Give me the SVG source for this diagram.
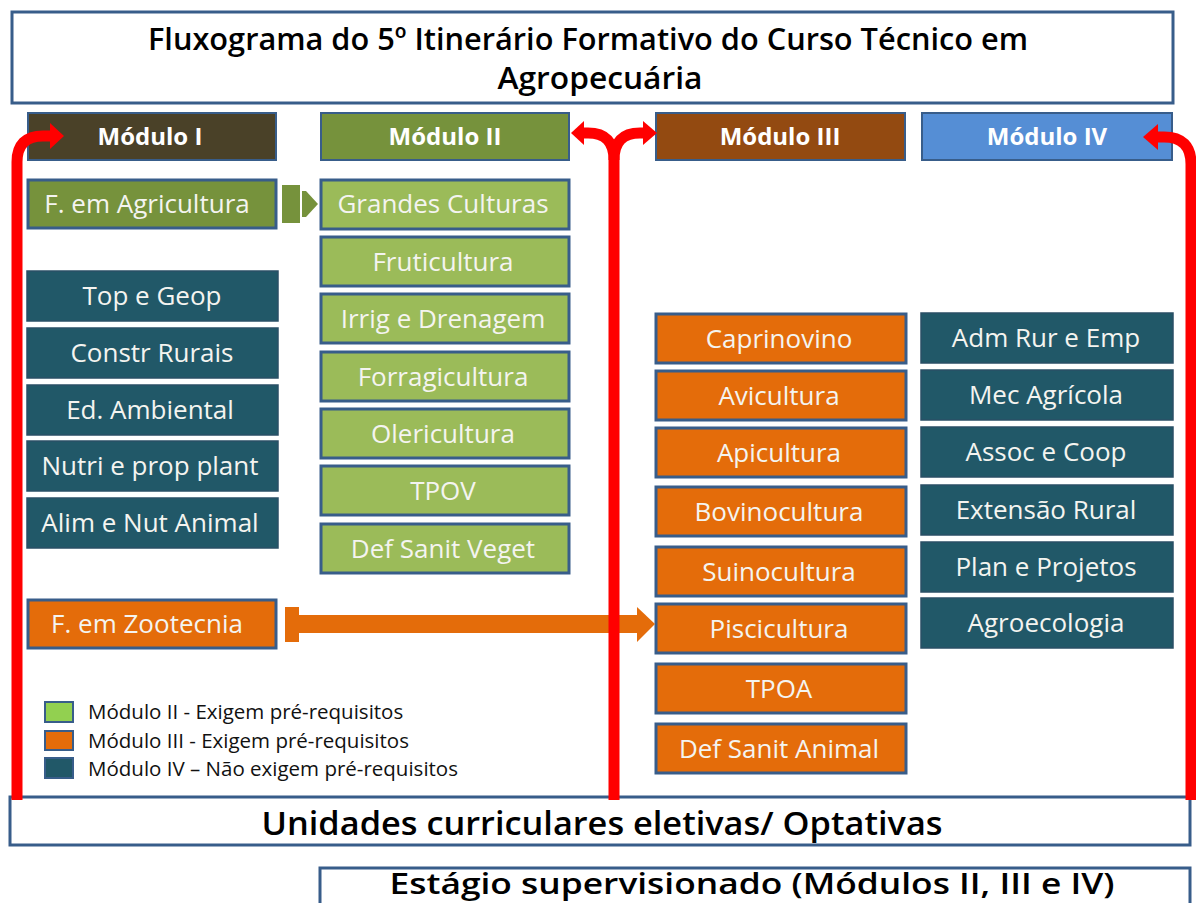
<svg xmlns="http://www.w3.org/2000/svg" width="1196" height="903" viewBox="0 0 1196 903">
<defs>
<style>
.frame{fill:#ffffff;stroke:#385d8a;stroke-width:3}
.hdr{stroke:#385d8a;stroke-width:2}
.n{stroke:#385d8a;stroke-width:3}
.t4{fill:#215868;stroke:#2a4f66;stroke-width:1.5}
.lg{fill:#9bbb59}
.dg{fill:#76923c}
.or{fill:#e46c0a}
.ht{font-family:"Open Sans","Liberation Sans",sans-serif;font-weight:bold;font-size:24px;fill:#ffffff;text-anchor:middle}
.nt{font-family:"Open Sans","Liberation Sans",sans-serif;font-size:26px;fill:#f4f4f0;text-anchor:middle}
.big{font-family:"Open Sans","Liberation Sans",sans-serif;font-weight:600;fill:#000000;text-anchor:middle}
.leg{font-family:"Open Sans","Liberation Sans",sans-serif;font-size:20.5px;fill:#111111}
.red{fill:none;stroke:#ff0000;stroke-width:11}
.redh{fill:#ff0000}
</style>
</defs>

<g id="title">
<rect class="frame" x="12" y="12" width="1161" height="91"/>
<text class="big" x="588" y="50" font-size="31" textLength="880" lengthAdjust="spacingAndGlyphs">Fluxograma do 5º Itinerário Formativo do Curso Técnico em</text>
<text class="big" x="600" y="89" font-size="31" textLength="205" lengthAdjust="spacingAndGlyphs">Agropecuária</text>
</g>

<g id="modulo-i"><rect class="hdr" x="28" y="113" width="248" height="47" fill="#4a4128"/><text class="ht" x="150" y="145">Módulo I</text></g>
<g id="modulo-ii"><rect class="hdr" x="321" y="113" width="248" height="47" fill="#76923c"/><text class="ht" x="445" y="145">Módulo II</text></g>
<g id="modulo-iii"><rect class="hdr" x="656" y="113" width="249" height="47" fill="#934a11"/><text class="ht" x="780" y="145">Módulo III</text></g>
<g id="modulo-iv"><rect class="hdr" x="922" y="113" width="250" height="47" fill="#558ed5"/><text class="ht" x="1047" y="145">Módulo IV</text></g>

<g id="f-agricultura"><rect class="n dg" x="28" y="180" width="248" height="48"/><text class="nt" x="147" y="213">F. em Agricultura</text></g>
<g id="top-geop"><rect class="t4" x="27" y="271" width="251" height="50"/><text class="nt" x="152" y="305">Top e Geop</text></g>
<g id="constr-rurais"><rect class="t4" x="27" y="328" width="251" height="50"/><text class="nt" x="152" y="362">Constr Rurais</text></g>
<g id="ed-ambiental"><rect class="t4" x="27" y="385" width="251" height="50"/><text class="nt" x="150" y="419">Ed. Ambiental</text></g>
<g id="nutri-prop-plant"><rect class="t4" x="27" y="441" width="251" height="50"/><text class="nt" x="150" y="475">Nutri e prop plant</text></g>
<g id="alim-nut-animal"><rect class="t4" x="27" y="498" width="251" height="50"/><text class="nt" x="150" y="532">Alim e Nut Animal</text></g>
<g id="f-zootecnia"><rect class="n or" x="28" y="600" width="248" height="48"/><text class="nt" x="147" y="633">F. em Zootecnia</text></g>

<g id="grandes-culturas"><rect class="n lg" x="321" y="180" width="248" height="49"/><text class="nt" x="443" y="213">Grandes Culturas</text></g>
<g id="fruticultura"><rect class="n lg" x="321" y="237" width="248" height="49"/><text class="nt" x="443" y="271">Fruticultura</text></g>
<g id="irrig-drenagem"><rect class="n lg" x="321" y="294" width="248" height="49"/><text class="nt" x="443" y="328">Irrig e Drenagem</text></g>
<g id="forragicultura"><rect class="n lg" x="321" y="352" width="248" height="49"/><text class="nt" x="443" y="386">Forragicultura</text></g>
<g id="olericultura"><rect class="n lg" x="321" y="409" width="248" height="49"/><text class="nt" x="443" y="443">Olericultura</text></g>
<g id="tpov"><rect class="n lg" x="321" y="466" width="248" height="49"/><text class="nt" x="443" y="500">TPOV</text></g>
<g id="def-sanit-veget"><rect class="n lg" x="321" y="524" width="248" height="49"/><text class="nt" x="443" y="558">Def Sanit Veget</text></g>

<g id="caprinovino"><rect class="n or" x="656" y="314" width="250" height="49"/><text class="nt" x="779" y="348">Caprinovino</text></g>
<g id="avicultura"><rect class="n or" x="656" y="371" width="250" height="49"/><text class="nt" x="779" y="405">Avicultura</text></g>
<g id="apicultura"><rect class="n or" x="656" y="428" width="250" height="49"/><text class="nt" x="779" y="462">Apicultura</text></g>
<g id="bovinocultura"><rect class="n or" x="656" y="487" width="250" height="49"/><text class="nt" x="779" y="521">Bovinocultura</text></g>
<g id="suinocultura"><rect class="n or" x="656" y="547" width="250" height="49"/><text class="nt" x="779" y="581">Suinocultura</text></g>
<g id="piscicultura"><rect class="n or" x="656" y="604" width="250" height="49"/><text class="nt" x="779" y="638">Piscicultura</text></g>
<g id="tpoa"><rect class="n or" x="656" y="664" width="250" height="49"/><text class="nt" x="779" y="698">TPOA</text></g>
<g id="def-sanit-animal"><rect class="n or" x="656" y="724" width="250" height="49"/><text class="nt" x="779" y="758">Def Sanit Animal</text></g>

<g id="adm-rur-emp"><rect class="t4" x="921" y="313" width="252" height="50"/><text class="nt" x="1046" y="347">Adm Rur e Emp</text></g>
<g id="mec-agricola"><rect class="t4" x="921" y="370" width="252" height="50"/><text class="nt" x="1046" y="404">Mec Agrícola</text></g>
<g id="assoc-coop"><rect class="t4" x="921" y="427" width="252" height="50"/><text class="nt" x="1046" y="461">Assoc e Coop</text></g>
<g id="extensao-rural"><rect class="t4" x="921" y="485" width="252" height="50"/><text class="nt" x="1046" y="519">Extensão Rural</text></g>
<g id="plan-projetos"><rect class="t4" x="921" y="542" width="252" height="50"/><text class="nt" x="1046" y="576">Plan e Projetos</text></g>
<g id="agroecologia"><rect class="t4" x="921" y="598" width="252" height="50"/><text class="nt" x="1046" y="632">Agroecologia</text></g>

<g id="legend">
<rect x="45" y="702" width="28" height="20" fill="#92d050" stroke="#385d8a" stroke-width="2"/>
<text class="leg" x="88" y="719">Módulo II - Exigem pré-requisitos</text>
<rect x="45" y="731" width="28" height="19" fill="#e46c0a" stroke="#385d8a" stroke-width="2"/>
<text class="leg" x="88" y="748">Módulo III - Exigem pré-requisitos</text>
<rect x="45" y="758" width="28" height="20" fill="#215868" stroke="#385d8a" stroke-width="2"/>
<text class="leg" x="88" y="776">Módulo IV – Não exigem pré-requisitos</text>
</g>

<g id="unidades">
<rect class="frame" x="10" y="797" width="1180" height="48"/>
<text class="big" x="602" y="835" font-size="32" textLength="681" lengthAdjust="spacingAndGlyphs">Unidades curriculares eletivas/ Optativas</text>
</g>

<g id="estagio">
<rect class="frame" x="320" y="868" width="870" height="40"/>
<text class="big" x="752" y="894" font-size="29" textLength="725" lengthAdjust="spacingAndGlyphs">Estágio supervisionado (Módulos II, III e IV)</text>
</g>

<g id="connectors">
<rect x="282" y="185" width="18" height="38" fill="#76923c"/>
<polygon points="302,191 306,191 318,204 306,217 302,217" fill="#76923c"/>
<rect x="285" y="607" width="14" height="35" fill="#e46c0a"/>
<rect x="299" y="615" width="340" height="18" fill="#e46c0a"/>
<polygon points="637,607 655,624 637,642" fill="#e46c0a"/>

<path class="red" d="M17 800 V162 Q17 136 43 136 H52"/>
<polygon class="redh" points="50,123 64,136 50,149"/>
<path class="red" d="M614 800 V160 Q614 133 588 133 H584"/>
<path class="red" d="M614 160 Q614 133 640 133 H644"/>
<polygon class="redh" points="584,121 571,133 584,145"/>
<polygon class="redh" points="643,121 657,133 643,145"/>
<path class="red" d="M1191 800 V164 Q1191 137 1164 137 H1157"/>
<polygon class="redh" points="1158,124 1143,137 1158,150"/>
</g>
</svg>
